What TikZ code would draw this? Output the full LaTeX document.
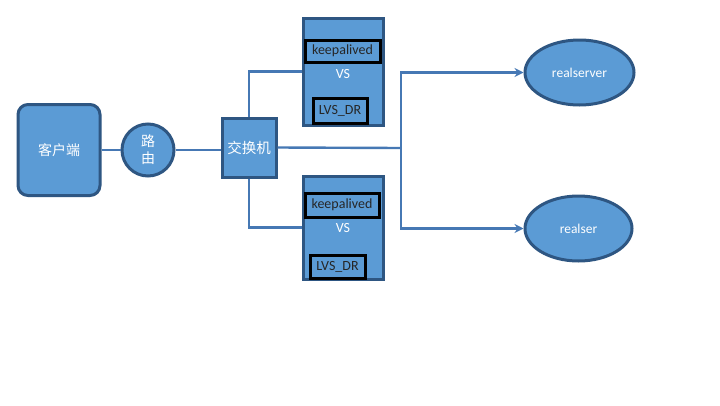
\documentclass[tikz,border=0pt]{standalone}
\usepackage{fontspec}
\setmainfont{Carlito}
\newfontfamily\cjk{Noto Sans CJK SC}
\usetikzlibrary{arrows.meta,shapes.geometric}
\definecolor{boxfill}{RGB}{91,155,213}
\definecolor{boxline}{RGB}{46,86,130}
\definecolor{linkcol}{RGB}{70,120,180}
\tikzset{
    blue box/.style={fill=boxfill, draw=boxline, line width=3pt, text=white},
    inner box/.style={draw=black, line width=3pt, fill=boxfill, text=black!85, inner sep=0pt, font=\fontsize{14}{16}\selectfont},
    link/.style={draw=linkcol, line width=2.4pt},
    tip/.style={-{Stealth[length=9pt,width=9pt]}}
}
\begin{document}
\begin{tikzpicture}[x=1pt, y=-1pt]
    \useasboundingbox[fill=white] (0,0) rectangle (720,405);
    % left side
    \node[blue box, rounded corners=10pt, minimum width=82pt, minimum height=91pt,
        font=\cjk\fontsize{14}{16}\selectfont] (client) at (59,150) {客户端};
    \node[blue box, circle, minimum size=52pt, inner sep=0pt, align=center,
        font=\cjk\fontsize{14}{17}\selectfont] (router) at (148,150) {路\\由};
    \node[blue box, minimum width=54pt, minimum height=59pt, inner sep=0pt,
        font=\cjk\fontsize{14.5}{16}\selectfont] (switch) at (249,147.5) {交换机};
    % the two VS boxes
    \node[blue box, minimum width=80pt, minimum height=107pt] (vsA) at (343,71.5) {};
    \node[inner box, minimum width=75pt, minimum height=22pt] (kaA) at (342.5,51) {keepalived};
    \node[text=white, font=\fontsize{14}{16}\selectfont] (vsTextA) at (343,74) {VS};
    \node[inner box, minimum width=54pt, minimum height=25pt] (drA) at (340,110.5) {LVS\_DR};
    \node[blue box, minimum width=80pt, minimum height=103pt] (vsB) at (343,227.5) {};
    \node[inner box, minimum width=74pt, minimum height=24pt] (kaB) at (342,205) {keepalived};
    \node[text=white, font=\fontsize{14}{16}\selectfont] (vsTextB) at (343,228) {VS};
    \node[inner box, minimum width=55pt, minimum height=23pt] (drB) at (337.5,266.5) {LVS\_DR};
    % real servers
    \node[blue box, ellipse, minimum width=109pt, minimum height=65pt, inner sep=0pt,
        font=\fontsize{13.5}{15}\selectfont] (rsA) at (579.5,72.5) {realserver};
    \node[blue box, ellipse, minimum width=107pt, minimum height=65pt, inner sep=0pt,
        font=\fontsize{13.5}{15}\selectfont] (rsB) at (578.5,228.5) {realser};
    % links
    \coordinate (hub) at (401,148);
    \draw[link] (client) -- (router);
    \draw[link] (router) -- (router -| switch.west);
    \draw[link] (switch.north) |- (vsA.west);
    \draw[link] (switch.south) |- (vsB.west);
    \draw[link] (switch.east) -- (hub);
    \draw[link, tip] (hub) |- (rsA.west);
    \draw[link, tip] (hub) |- (rsB.west);
\end{tikzpicture}
\end{document}
